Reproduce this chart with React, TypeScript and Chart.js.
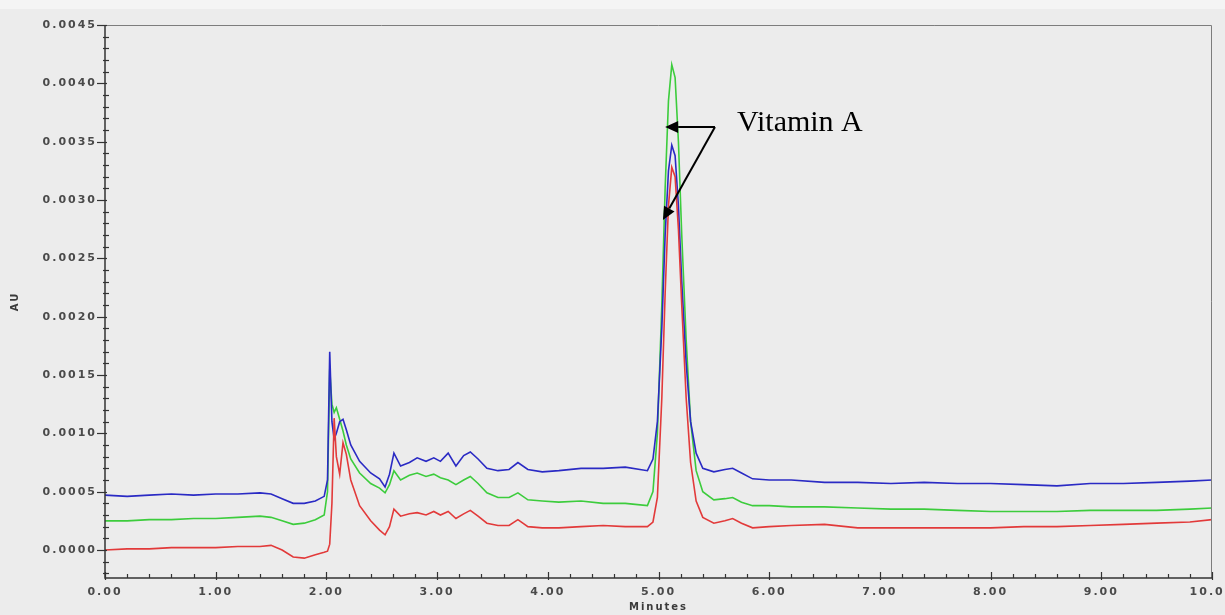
import React, { useEffect, useRef } from 'react';
import { Chart, registerables } from 'chart.js';

Chart.register(...registerables);

// Retention time (minutes)
const times = [
  0, 0.2, 0.4, 0.6, 0.8, 1.0, 1.2, 1.4, 1.5, 1.6, 1.7, 1.8, 1.9, 1.98,
  2.01, 2.03, 2.05, 2.07, 2.09, 2.12, 2.15, 2.18, 2.22, 2.3, 2.4, 2.48, 2.53,
  2.57, 2.61, 2.67, 2.75, 2.82, 2.9, 2.97, 3.03, 3.1, 3.17, 3.24, 3.3, 3.37,
  3.45, 3.55, 3.65, 3.73, 3.82, 3.95, 4.1, 4.3, 4.5, 4.7, 4.9, 4.95, 4.99,
  5.03, 5.06, 5.09, 5.12, 5.15, 5.18, 5.21, 5.25, 5.29, 5.34, 5.4, 5.5, 5.6,
  5.67, 5.75, 5.85, 6.0, 6.2, 6.5, 6.8, 7.1, 7.4, 7.7, 8.0, 8.3, 8.6, 8.9,
  9.2, 9.5, 9.8, 10.0,
];

// Absorbance in units of 1e-4 AU
const blueE4 = [
  4.7, 4.6, 4.7, 4.8, 4.7, 4.8, 4.8, 4.9, 4.8, 4.4, 4.0, 4.0, 4.2, 4.6,
  6.0, 17.0, 11.0, 9.5, 10.0, 11.0, 11.2, 10.3, 9.0, 7.6, 6.6, 6.1, 5.4,
  6.5, 8.3, 7.2, 7.5, 7.9, 7.6, 7.9, 7.6, 8.3, 7.2, 8.1, 8.4, 7.8,
  7.0, 6.8, 6.9, 7.5, 6.9, 6.7, 6.8, 7.0, 7.0, 7.1, 6.8, 7.8, 11.0,
  19.0, 27.0, 32.5, 34.7, 33.8, 29.5, 23.0, 16.0, 11.0, 8.3, 7.0, 6.7, 6.9,
  7.0, 6.6, 6.1, 6.0, 6.0, 5.8, 5.8, 5.7, 5.8, 5.7, 5.7, 5.6, 5.5, 5.7,
  5.7, 5.8, 5.9, 6.0,
];

const greenE4 = [
  2.5, 2.5, 2.6, 2.6, 2.7, 2.7, 2.8, 2.9, 2.8, 2.5, 2.2, 2.3, 2.6, 3.0,
  5.0, 15.5, 12.5, 11.8, 12.2, 11.2, 10.2, 9.0, 7.8, 6.6, 5.7, 5.3, 4.9,
  5.6, 6.8, 6.0, 6.4, 6.6, 6.3, 6.5, 6.2, 6.0, 5.6, 6.0, 6.3, 5.7,
  4.9, 4.5, 4.5, 4.9, 4.3, 4.2, 4.1, 4.2, 4.0, 4.0, 3.8, 5.0, 10.0,
  21.0, 31.0, 38.5, 41.6, 40.5, 35.0, 27.0, 18.0, 11.0, 6.8, 5.0, 4.3, 4.4,
  4.5, 4.1, 3.8, 3.8, 3.7, 3.7, 3.6, 3.5, 3.5, 3.4, 3.3, 3.3, 3.3, 3.4,
  3.4, 3.4, 3.5, 3.6,
];

const redE4 = [
  0.0, 0.1, 0.1, 0.2, 0.2, 0.2, 0.3, 0.3, 0.4, 0.0, -0.6, -0.7, -0.4, -0.2,
  -0.1, 0.5, 4.0, 11.3, 8.0, 6.5, 9.2, 8.2, 6.0, 3.8, 2.5, 1.7, 1.3,
  2.0, 3.5, 2.9, 3.1, 3.2, 3.0, 3.3, 3.0, 3.3, 2.7, 3.1, 3.4, 2.9,
  2.3, 2.1, 2.1, 2.6, 2.0, 1.9, 1.9, 2.0, 2.1, 2.0, 2.0, 2.4, 4.5,
  13.0, 22.0, 29.5, 32.8, 32.0, 27.5, 21.0, 13.0, 7.5, 4.2, 2.8, 2.3, 2.5,
  2.7, 2.3, 1.9, 2.0, 2.1, 2.2, 1.9, 1.9, 1.9, 1.9, 1.9, 2.0, 2.0, 2.1,
  2.2, 2.3, 2.4, 2.6,
];

const xTickValues = [0, 1, 2, 3, 4, 5, 6, 7, 8, 9, 10];
const yTickValues = [0, 0.0005, 0.001, 0.0015, 0.002, 0.0025, 0.003, 0.0035, 0.004, 0.0045];

const annotationLabel = 'Vitamin A';
const arrowStart = { x: 5.51, y: 0.003626 };
const arrowTips = [
  { x: 5.06, y: 0.003626 },
  { x: 5.04, y: 0.002829 },
];
const labelAnchor = { x: 5.71, y: 0.00366 };

const toPoints = (vals: number[]) => vals.map((v, i) => ({ x: times[i], y: v / 10000 }));

const decorPlugin = {
  id: 'decor',
  beforeDraw(chart: any) {
    const ctx = chart.ctx;
    ctx.save();
    ctx.fillStyle = '#ececec';
    ctx.fillRect(0, 0, chart.width, chart.height);
    ctx.fillStyle = '#f4f4f4';
    ctx.fillRect(0, 0, chart.width, 9);
    ctx.restore();
    ctx.letterSpacing = '2px';
  },
  afterDraw(chart: any) {
    const ctx = chart.ctx;
    const a = chart.chartArea;
    const xs = chart.scales.x;
    const ys = chart.scales.y;
    ctx.save();
    ctx.letterSpacing = '0px';
    // frame top/right
    ctx.strokeStyle = '#7d7d7d';
    ctx.lineWidth = 1;
    ctx.beginPath();
    ctx.moveTo(a.left, a.top + 0.5);
    ctx.lineTo(a.right - 0.5, a.top + 0.5);
    ctx.lineTo(a.right - 0.5, a.bottom);
    ctx.stroke();
    // main axes
    ctx.strokeStyle = '#333';
    ctx.lineWidth = 1.5;
    ctx.beginPath();
    ctx.moveTo(a.left, a.top);
    ctx.lineTo(a.left, a.bottom);
    ctx.lineTo(a.right, a.bottom);
    ctx.stroke();
    // y ticks
    ctx.lineWidth = 1.2;
    for (let i = -2; i <= 45; i++) {
      const py = Math.round(ys.getPixelForValue(i / 10000)) + 0.5;
      ctx.beginPath();
      if (i % 5 === 0) {
        ctx.moveTo(a.left - 8, py);
        ctx.lineTo(a.left + 2, py);
      } else {
        ctx.moveTo(a.left - 2, py);
        ctx.lineTo(a.left + 4, py);
      }
      ctx.stroke();
    }
    // x ticks
    for (let i = 0; i <= 50; i++) {
      const px = Math.round(xs.getPixelForValue(i / 5)) + 0.5;
      ctx.beginPath();
      if (i % 5 === 0) {
        ctx.moveTo(px, a.bottom - 6);
        ctx.lineTo(px, a.bottom + 2);
      } else {
        ctx.moveTo(px, a.bottom - 4);
        ctx.lineTo(px, a.bottom);
      }
      ctx.stroke();
    }
    // annotation arrows
    const sx = xs.getPixelForValue(arrowStart.x);
    const sy = ys.getPixelForValue(arrowStart.y);
    ctx.strokeStyle = '#000';
    ctx.fillStyle = '#000';
    ctx.lineWidth = 2;
    arrowTips.forEach((t) => {
      const tx = xs.getPixelForValue(t.x);
      const ty = ys.getPixelForValue(t.y);
      const ang = Math.atan2(ty - sy, tx - sx);
      const len = 13;
      const hw = 6;
      const bx = tx - Math.cos(ang) * len;
      const by = ty - Math.sin(ang) * len;
      ctx.beginPath();
      ctx.moveTo(sx, sy);
      ctx.lineTo(bx, by);
      ctx.stroke();
      ctx.beginPath();
      ctx.moveTo(tx, ty);
      ctx.lineTo(bx + Math.sin(ang) * hw, by - Math.cos(ang) * hw);
      ctx.lineTo(bx - Math.sin(ang) * hw, by + Math.cos(ang) * hw);
      ctx.closePath();
      ctx.fill();
    });
    ctx.font = '30px "Liberation Serif", "Times New Roman", serif';
    ctx.textBaseline = 'middle';
    ctx.textAlign = 'left';
    ctx.fillText(annotationLabel, xs.getPixelForValue(labelAnchor.x), ys.getPixelForValue(labelAnchor.y));
    ctx.restore();
  },
};

export default function App() {
  const canvasRef = useRef<HTMLCanvasElement | null>(null);

  useEffect(() => {
    if (!canvasRef.current) return;
    const tickFont = { family: '"DejaVu Sans", sans-serif', size: 11, weight: 'bold' as const };
    const titleFont = { family: '"DejaVu Sans", sans-serif', size: 10, weight: 'bold' as const };
    const chart = new Chart(canvasRef.current, {
      type: 'line',
      data: {
        datasets: [
          { label: 'red', data: toPoints(redE4), borderColor: '#e23a3a', borderWidth: 1.6, pointRadius: 0, tension: 0 },
          { label: 'blue', data: toPoints(blueE4), borderColor: '#2a2ac4', borderWidth: 1.6, pointRadius: 0, tension: 0 },
          { label: 'green', data: toPoints(greenE4), borderColor: '#3ccc3c', borderWidth: 1.6, pointRadius: 0, tension: 0 },
        ],
      },
      options: {
        responsive: false,
        animation: false,
        devicePixelRatio: 1,
        layout: { padding: { top: 25, right: 13, left: 0, bottom: 0 } },
        plugins: { legend: { display: false }, tooltip: { enabled: false } },
        scales: {
          x: {
            type: 'linear',
            min: 0,
            max: 10,
            grid: { display: false, drawTicks: false },
            border: { display: false },
            afterBuildTicks: (s: any) => { s.ticks = xTickValues.map((v) => ({ value: v })); },
            afterFit: (s: any) => { s.height = 37; s.paddingLeft = 0; s.paddingRight = 0; },
            ticks: {
              font: tickFont,
              color: '#4a4a4a',
              padding: 8,
              maxRotation: 0,
              autoSkip: false,
              callback: (v: any) => Number(v).toFixed(2),
            },
            title: {
              display: true,
              text: 'Minutes',
              color: '#3a3a3a',
              font: titleFont,
              padding: { top: 0, bottom: 2 },
            },
          },
          y: {
            type: 'linear',
            min: -0.00024,
            max: 0.0045,
            grid: { display: false, drawTicks: false },
            border: { display: false },
            afterBuildTicks: (s: any) => { s.ticks = yTickValues.map((v) => ({ value: v })); },
            afterFit: (s: any) => { s.width = 105; s.paddingTop = 0; s.paddingBottom = 0; },
            ticks: {
              font: tickFont,
              color: '#4a4a4a',
              padding: 8,
              autoSkip: false,
              callback: (v: any) => Math.abs(Number(v)).toFixed(4),
            },
            title: {
              display: true,
              text: 'AU',
              color: '#3a3a3a',
              font: titleFont,
              padding: { top: 9, bottom: 0 },
            },
          },
        },
      },
      plugins: [decorPlugin],
    });
    return () => chart.destroy();
  }, []);

  return (
    <div style={{ position: 'fixed', left: 0, top: 0, width: 1225, height: 615, background: '#ececec' }}>
      <canvas ref={canvasRef} width={1225} height={615} style={{ display: 'block' }} />
    </div>
  );
}
